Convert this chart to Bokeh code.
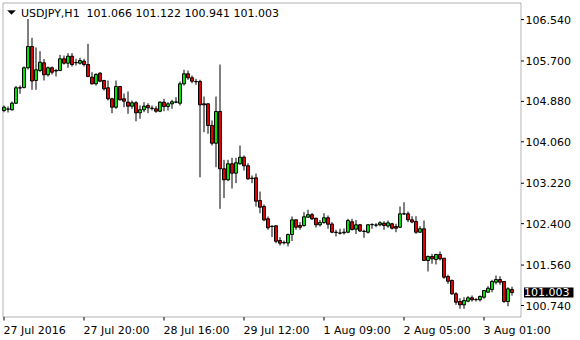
from bokeh.plotting import figure
from bokeh.models import (Range1d, Label, LabelSet, ColumnDataSource, PolyAnnotation, BoxAnnotation)
from bokeh.core.properties import value
from bokeh.embed import file_html
from bokeh.resources import INLINE

symbol = "USDJPY,H1"

opens = [
    104.695, 104.722, 104.710, 104.843, 105.156, 105.162, 105.562, 105.994, 105.304, 105.507,
    105.663, 105.420, 105.562, 105.497, 105.507, 105.744, 105.655, 105.797, 105.663, 105.655,
    105.695, 105.628, 105.371, 105.237, 105.452, 105.304, 105.156, 104.933, 104.762, 105.182,
    104.933, 104.864, 104.783, 104.852, 104.649, 104.710, 104.797, 104.742, 104.730, 104.681,
    104.864, 104.777, 104.831, 104.864, 104.843, 105.237, 105.440, 105.359, 105.284, 105.284,
    104.831, 104.831, 104.391, 104.032, 104.675, 103.513, 103.290, 103.614, 103.424, 103.614,
    103.748, 103.574, 103.322, 103.330, 102.870, 102.748, 102.499, 102.349, 102.357, 102.058,
    102.012, 102.008, 102.180, 102.478, 102.363, 102.363, 102.531, 102.582, 102.511, 102.377,
    102.424, 102.519, 102.393, 102.227, 102.211, 102.215, 102.227, 102.438, 102.288, 102.377,
    102.247, 102.227, 102.379, 102.369, 102.377, 102.409, 102.353, 102.397, 102.342, 102.328,
    102.600, 102.600, 102.478, 102.444, 102.227, 102.296, 101.653, 101.734, 101.673, 101.774,
    101.699, 101.328, 101.247, 100.977, 100.821, 100.754, 100.827, 100.896, 100.862, 100.856,
    100.908, 101.010, 101.065, 101.213, 101.267, 101.227, 100.821, 101.066]

highs = [
    104.797, 104.777, 104.878, 105.192, 105.202, 105.588, 106.551, 106.170, 105.973, 105.898,
    105.740, 105.588, 105.588, 105.541, 105.825, 105.811, 105.858, 105.858, 105.744, 105.764,
    105.744, 106.048, 105.472, 105.452, 105.472, 105.318, 105.304, 104.953, 105.304, 105.190,
    105.040, 105.081, 104.898, 104.884, 104.797, 104.864, 104.843, 104.797, 104.783, 104.884,
    104.933, 104.864, 104.912, 104.965, 105.284, 105.521, 105.507, 105.405, 105.338, 105.318,
    104.979, 104.840, 104.493, 104.979, 105.628, 103.695, 103.695, 103.736, 103.736, 103.985,
    103.783, 103.626, 103.377, 103.417, 103.052, 102.789, 102.545, 102.363, 102.363, 102.125,
    102.058, 102.200, 102.545, 102.485, 102.430, 102.633, 102.681, 102.616, 102.519, 102.474,
    102.612, 102.566, 102.430, 102.276, 102.296, 102.302, 102.499, 102.499, 102.474, 102.393,
    102.276, 102.393, 102.409, 102.409, 102.450, 102.450, 102.464, 102.417, 102.397, 102.748,
    102.835, 102.647, 102.551, 102.551, 102.349, 102.464, 101.754, 101.789, 101.789, 101.835,
    101.705, 101.363, 101.267, 101.010, 100.888, 100.908, 100.929, 100.943, 100.888, 100.943,
    101.050, 101.131, 101.261, 101.349, 101.334, 101.235, 101.111, 101.122]

lows = [
    104.661, 104.655, 104.695, 104.827, 105.034, 105.142, 105.527, 105.115, 105.115, 105.472,
    105.304, 105.385, 105.426, 105.385, 105.493, 105.628, 105.562, 105.588, 105.608, 105.628,
    105.588, 105.371, 105.223, 105.202, 105.269, 105.101, 104.898, 104.641, 104.730, 104.898,
    104.762, 104.628, 104.730, 104.478, 104.527, 104.661, 104.641, 104.695, 104.649, 104.661,
    104.681, 104.695, 104.730, 104.843, 104.797, 105.202, 105.318, 105.249, 105.217, 103.342,
    104.255, 104.223, 103.985, 103.545, 102.701, 102.921, 103.261, 103.113, 103.221, 103.600,
    103.478, 103.290, 103.221, 102.748, 102.612, 102.450, 102.276, 102.129, 102.004, 101.957,
    101.977, 101.937, 102.048, 102.276, 102.276, 102.336, 102.519, 102.474, 102.322, 102.342,
    102.397, 102.296, 102.207, 102.140, 102.180, 102.180, 102.207, 102.261, 102.190, 102.231,
    102.113, 102.200, 102.296, 102.328, 102.349, 102.276, 102.316, 102.282, 102.227, 102.316,
    102.580, 102.430, 102.409, 102.194, 102.215, 101.643, 101.430, 101.586, 101.572, 101.653,
    101.282, 101.180, 100.957, 100.754, 100.673, 100.673, 100.807, 100.821, 100.821, 100.821,
    100.876, 100.998, 101.010, 101.166, 101.160, 100.795, 100.726, 100.941]

closes = [
    104.762, 104.726, 104.843, 105.156, 105.152, 105.562, 105.994, 105.294, 105.521, 105.675,
    105.420, 105.562, 105.472, 105.507, 105.744, 105.655, 105.797, 105.628, 105.669, 105.710,
    105.628, 105.385, 105.237, 105.426, 105.290, 105.136, 104.933, 104.762, 105.182, 104.912,
    104.884, 104.783, 104.852, 104.649, 104.710, 104.783, 104.750, 104.738, 104.681, 104.864,
    104.777, 104.831, 104.872, 104.868, 105.237, 105.440, 105.359, 105.290, 105.278, 104.811,
    104.811, 104.391, 104.032, 104.675, 103.513, 103.290, 103.614, 103.424, 103.635, 103.748,
    103.574, 103.310, 103.316, 102.856, 102.734, 102.478, 102.316, 102.342, 102.044, 102.004,
    102.018, 102.180, 102.478, 102.328, 102.328, 102.539, 102.582, 102.499, 102.377, 102.424,
    102.519, 102.389, 102.227, 102.221, 102.207, 102.227, 102.464, 102.282, 102.377, 102.251,
    102.241, 102.377, 102.383, 102.373, 102.417, 102.363, 102.417, 102.308, 102.308, 102.600,
    102.596, 102.478, 102.434, 102.227, 102.296, 101.653, 101.734, 101.687, 101.774, 101.687,
    101.314, 101.233, 100.977, 100.807, 100.754, 100.841, 100.896, 100.856, 100.858, 100.923,
    101.044, 101.091, 101.227, 101.267, 101.213, 100.821, 101.079, 101.003]

time_tick_bars = [0, 20, 40, 60, 80, 100, 120]
time_tick_labels = ["27 Jul 2016", "27 Jul 20:00", "28 Jul 16:00", "29 Jul 12:00",
                    "1 Aug 09:00", "2 Aug 05:00", "3 Aug 01:00"]
price_ticks = [100.740, 101.560, 102.400, 103.220, 104.060, 104.880, 105.700, 106.540]

# ---- layout / style constants (canvas pixels) ----
W, H = 580, 340
FONT = "DejaVu Sans"
FS = "11px"
UP = "#00e400"
DOWN = "#e40000"
BAR_PX = 4.0          # pixels per bar
BAR0_PX = 3.5         # canvas x of first bar
REF_PRICE, REF_Y, PX_PER_UNIT = 100.74, 305.0, 49.3   # price-scale calibration
BOX_L, BOX_R, BOX_T, BOX_B = 2.5, 520.5, 2.5, 316.5


def x_at(px):
    return (px - BAR0_PX) / BAR_PX


def price_at(py):
    return REF_PRICE + (REF_Y - py) / PX_PER_UNIT


n = min(len(opens), len(highs), len(lows), len(closes))
idx = list(range(n))

p = figure(width=W, height=H, output_backend="svg", toolbar_location=None,
           x_range=Range1d(x_at(0), x_at(W)), y_range=Range1d(price_at(H), price_at(0)),
           x_axis_location=None, y_axis_location=None,
           min_border_left=0, min_border_right=0, min_border_top=0, min_border_bottom=0)
p.background_fill_color = "white"
p.border_fill_color = "white"
p.outline_line_color = None
p.grid.visible = False

# chart box with the price axis line on its right side
p.add_layout(BoxAnnotation(left=BOX_L, right=BOX_R, top=H - BOX_T, bottom=H - BOX_B,
                           left_units="screen", right_units="screen",
                           top_units="screen", bottom_units="screen",
                           fill_color=None, line_color="black", line_width=1))

# price axis ticks and labels
ax_x = x_at(BOX_R)
p.segment(x0=[ax_x] * len(price_ticks), y0=price_ticks,
          x1=[x_at(BOX_R + 3)] * len(price_ticks), y1=price_ticks,
          line_color="black", line_width=1)
psrc = ColumnDataSource(dict(y=price_ticks, t=[f"{v:.3f}" for v in price_ticks]))
p.add_layout(LabelSet(x=BOX_R + 4.5, x_units="screen", y="y", text="t", source=psrc,
                      text_align="left", text_baseline="middle",
                      text_font=value(FONT), text_font_size=value(FS), text_color="black"))

# time axis ticks and labels
yb = price_at(BOX_B)
p.segment(x0=time_tick_bars, y0=[yb] * len(time_tick_bars),
          x1=time_tick_bars, y1=[price_at(BOX_B + 3.5)] * len(time_tick_bars),
          line_color="black", line_width=1)
tsrc = ColumnDataSource(dict(x=time_tick_bars, t=time_tick_labels))
p.add_layout(LabelSet(x="x", y=H - 330, y_units="screen", text="t", source=tsrc,
                      x_offset=-0.5, text_align="left", text_baseline="middle",
                      text_font=value(FONT), text_font_size=value(FS), text_color="black"))

# candles
p.segment(x0=idx, y0=lows[:n], x1=idx, y1=highs[:n], line_color="black", line_width=1)
tops = [max(opens[i], closes[i]) for i in idx]
bots = [min(opens[i], closes[i]) for i in idx]
cols = [UP if closes[i] > opens[i] else DOWN for i in idx]
p.vbar(x=idx, width=0.75, top=tops, bottom=bots, fill_color=cols,
       line_color="black", line_width=1)

# header
p.add_layout(PolyAnnotation(xs=[7, 15, 11], ys=[H - 10, H - 10, H - 14],
                            xs_units="screen", ys_units="screen",
                            fill_color="black", fill_alpha=1, line_color="black", line_width=1))
nb = "\u00a0"
header = (f"{symbol}{nb}{nb}{opens[n-1]:.3f}{nb}{highs[n-1]:.3f}"
          f"{nb}{lows[n-1]:.3f}{nb}{closes[n-1]:.3f}")
p.add_layout(Label(x=20.5, y=H - 12.5, x_units="screen", y_units="screen", text=header,
                   text_font=FONT, text_font_size=FS, text_color="black",
                   text_baseline="middle", text_align="left"))

# current price box
p.add_layout(Label(x=BOX_R + 3, y=closes[n-1], x_units="screen", y_units="data",
                   text=f"{closes[n-1]:.3f}", text_font=FONT, text_font_size=FS,
                   text_color="white", background_fill_color="black",
                   text_baseline="middle", text_align="left", padding=(0, 4, 0, 2)))

open("out.html", "w").write(file_html(p, INLINE))
